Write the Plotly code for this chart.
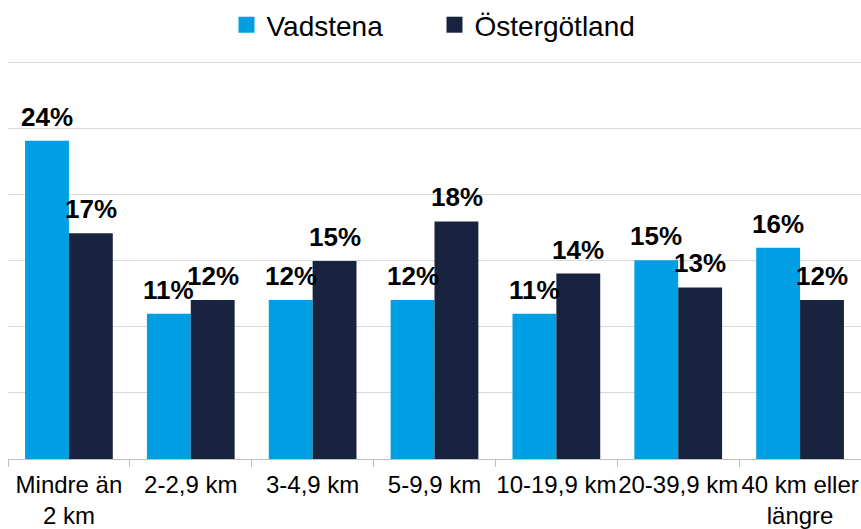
import plotly.graph_objects as go

# Distance categories and share of commuters (%)
categories = ["Mindre än<br>2 km", "2-2,9 km", "3-4,9 km", "5-9,9 km",
              "10-19,9 km", "20-39,9 km", "40 km eller<br>längre"]
vadstena = [24.1, 11.0, 12.05, 12.05, 11.0, 15.05, 16.0]
ostergotland = [17.1, 12.05, 15.0, 18.0, 14.05, 13.0, 12.05]

series_names = ["Vadstena", "Östergötland"]
colors = ["#009FE3", "#18243F"]

FONT = "Liberation Sans, Arial, sans-serif"

fig = go.Figure()

# Bars, legend is handled by the dummy traces below.
for name, values, color in zip(series_names, [vadstena, ostergotland], colors):
    fig.add_trace(go.Bar(
        x=categories, y=values, name=name,
        marker=dict(color=color, line=dict(width=0)),
        showlegend=False, hoverinfo="skip"
    ))

# Larger square legend symbols.
for name, color in zip(series_names, colors):
    fig.add_trace(go.Scatter(
        x=[None], y=[None], mode="markers", name=name,
        marker=dict(symbol="square", size=17, color=color)
    ))

# Value labels above each bar.
for values, shift in [(vadstena, -22), (ostergotland, 22)]:
    for cat, val in zip(categories, values):
        fig.add_annotation(
            x=cat, y=val, xref="x", yref="y",
            text=f"{val:.0f}%", showarrow=False,
            xshift=shift, yshift=24, yanchor="middle",
            font=dict(family=FONT, size=26, color="black", weight="bold")
        )

# Range a bit above 30 so the top gridline is drawn inside the plot.
fig.update_layout(
    width=861, height=529,
    margin=dict(l=8, r=0, t=58, b=68),
    paper_bgcolor="white", plot_bgcolor="white",
    barmode="group", bargap=0.28, bargroupgap=0,
    font=dict(family=FONT, color="black"),
    legend=dict(orientation="h", x=0.5, xanchor="center",
                y=1.085, yanchor="middle", entrywidth=163,
                font=dict(family=FONT, size=28, color="black")),
    xaxis=dict(showline=True, linecolor="#BFBFBF", linewidth=1,
               ticks="outside", tickson="boundaries", ticklen=7,
               tickcolor="#BFBFBF", tickangle=0, ticklabelstandoff=4,
               tickfont=dict(family=FONT, size=24, color="black")),
    yaxis=dict(range=[0, 30.3], tick0=0, dtick=5, showticklabels=False,
               showgrid=True, gridcolor="#D9D9D9", gridwidth=1,
               zeroline=False),
)

# Drop the default body margin so the figure fills the window exactly.
fig.write_html("out.html",
               config={"displayModeBar": False},
               post_script="document.body.style.margin='0';"
                           "document.body.style.overflow='hidden';")
